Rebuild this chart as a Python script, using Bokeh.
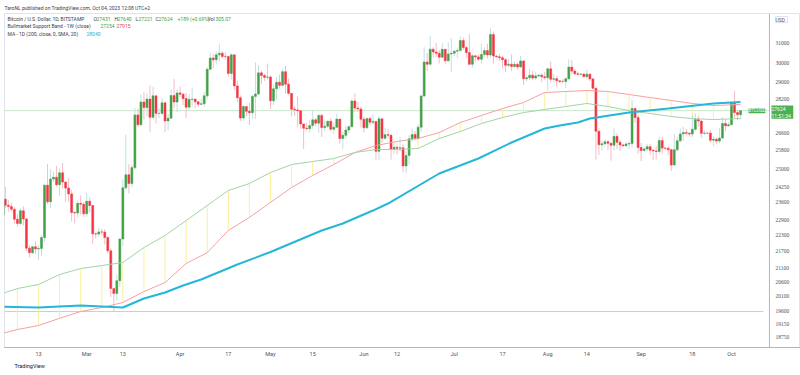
import pandas as pd
from bokeh.plotting import figure
from bokeh.models import (Range1d, FixedTicker, Label, LabelSet, Span, ColumnDataSource, Title)
from bokeh.embed import file_html
from bokeh.resources import INLINE

# ---------------- data ----------------
first_date = "2023-02-01"
last_date = "2023-10-04"
prev_close = 23125

closes = [
    # Feb
    23733, 23490, 23431, 23326, 22932, 22762, 23264, 22939, 21819, 21651,
    21870, 21788, 21808, 22220, 24307, 23623, 24565, 24641, 24328, 24829,
    24436, 24188, 23947, 23198, 23175, 23561, 23522, 23147,
    # Mar
    23646, 23475, 22362, 22353, 22435, 22429, 22219, 21718, 20363, 20187,
    20632, 22163, 24197, 24746, 24375, 25052, 27423, 26965, 28038, 27767,
    28175, 27307, 28333, 27493, 27494, 27994, 27139, 27268, 28348, 28033, 28478,
    # Apr
    28411, 28199, 27790, 28168, 28177, 28044, 27925, 27947, 28333, 29652,
    30235, 30139, 30399, 30485, 30318, 30315, 29445, 30397, 28822, 28245,
    27276, 27817, 27591, 27525, 28307, 28422, 29473, 29340, 29248, 29268,
    # May
    28091, 28680, 29006, 28847, 29534, 28904, 28454, 27694, 27658, 27621,
    27000, 26804, 26784, 26930, 27192, 27036, 27398, 26832, 26890, 27129,
    26753, 26851, 27225, 26334, 26476, 26719, 26868, 28085, 27745, 27702, 27219,
    # Jun
    26819, 27249, 27075, 27119, 25760, 27238, 26345, 26508, 26480, 25851,
    25940, 25902, 25918, 25124, 25576, 26327, 26510, 26336, 26851, 28327,
    30027, 29912, 30695, 30548, 30480, 30271, 30689, 30086, 30445, 30477,
    # Jul
    30590, 30620, 31156, 30777, 30514, 29909, 30346, 30292, 30171, 30414,
    30620, 30392, 31476, 30334, 30295, 30249, 30145, 29856, 29913, 29793,
    29908, 29771, 30084, 29176, 29228, 29354, 29210, 29319, 29357, 29275, 29230,
    # Aug
    29675, 29151, 29178, 29074, 29042, 29041, 29180, 29765, 29561, 29429,
    29397, 29415, 29283, 29408, 29170, 28701, 26664, 26049, 26097, 26189,
    26124, 26031, 26431, 26163, 26047, 26008, 26089, 26107, 27727, 27297, 25931,
    # Sep
    25800, 25868, 25969, 25812, 25779, 25753, 26240, 25905, 25895, 25832,
    25162, 25833, 26228, 26539, 26608, 26568, 26534, 26754, 27211, 27132,
    26568, 26580, 26579, 26256, 26298, 26217, 26352, 27021, 26911, 26967,
    # Oct
    27983, 27531, 27431, 27624,
]

highs = [
    23800, 24230, 23700, 23580, 23420, 23150, 23350, 23440, 22990, 21930,
    21900, 22080, 21900, 22320, 24370, 25200, 24990, 24880, 25120, 25020,
    25250, 24470, 24600, 24120, 23220, 23680, 23880, 23600,
    24000, 23790, 23480, 22410, 22600, 22550, 22540, 22270, 21810, 20290,
    20840, 22220, 24550, 26500, 25200, 25180, 27740, 27720, 28410, 28500,
    28450, 28840, 28780, 28200, 27750, 28210, 28040, 27490, 28650, 29170, 28640,
    28800, 28470, 28480, 28430, 28750, 28180, 28100, 28180, 28520, 29770,
    30520, 30440, 30580, 31000, 30600, 30540, 30330, 30470, 30400, 29080,
    28350, 27870, 27820, 28000, 28380, 30000, 29880, 29580, 29420, 29950,
    29330, 28880, 29260, 29380, 29690, 29820, 29180, 28470, 27830, 28300,
    27630, 26960, 27040, 27180, 27650, 27260, 27470, 27480, 27170, 27150,
    27260, 27050, 27480, 27220, 26630, 26900, 26950, 28200, 28450, 28040, 27820,
    27350, 27300, 27330, 27450, 27130, 27360, 27120, 26800, 26770, 26540,
    26200, 26000, 26400, 26080, 25750, 26480, 26780, 26680, 26980, 28400,
    30800, 30500, 31400, 30800, 31030, 30650, 31000, 30700, 31050, 31280,
    30650, 30780, 31380, 31320, 30870, 31500, 30450, 30390, 30430, 31000,
    30800, 30980, 31820, 31640, 30390, 30440, 30340, 30240, 30200, 30420,
    30050, 29990, 30340, 30100, 29350, 29690, 29570, 29530, 29410, 29450, 29520,
    29740, 30050, 29410, 29310, 29110, 29170, 29240, 30170, 30130, 29690,
    29530, 29470, 29450, 29660, 29450, 29230, 28750, 26800, 26260, 26300,
    26260, 26130, 26800, 26560, 26280, 26100, 26180, 26220, 28140, 27750, 27500,
    26140, 25960, 26090, 26090, 25860, 26000, 26420, 26430, 25940, 25980,
    25880, 26540, 26390, 26800, 26880, 26770, 26620, 27400, 27490, 27380,
    27170, 26720, 26620, 26720, 26430, 26390, 26820, 27300, 27230, 27080,
    28050, 28580, 27660, 27640,
]

lows = [
    22760, 23370, 23230, 23250, 22750, 22640, 22700, 22680, 21700, 21470,
    21600, 21610, 21380, 21540, 22060, 23530, 23370, 24450, 24260, 23870,
    24160, 23620, 23630, 22850, 22760, 22990, 23110, 23020,
    23030, 23200, 21980, 22180, 22250, 22300, 21950, 21630, 20070, 19570,
    19950, 20420, 21890, 24120, 23970, 24240, 24950, 26850, 26900, 27200,
    27350, 26630, 27220, 27020, 27270, 27440, 26620, 26700, 27260, 27730, 27560,
    28270, 27880, 27280, 27690, 27830, 27740, 27790, 27880, 27830, 28180,
    29620, 29700, 29890, 30030, 30230, 30150, 29270, 29120, 28620, 28030,
    27150, 27140, 27350, 26950, 27230, 27230, 28380, 28900, 29070, 29110,
    27700, 27880, 28130, 28700, 28800, 28450, 28400, 27350, 27380, 26880,
    26780, 25870, 26700, 26600, 26770, 26880, 26600, 26400, 26670, 26820,
    26690, 26540, 26810, 26100, 25880, 26330, 26590, 26860, 27560, 27570, 26850,
    26600, 26790, 26930, 26970, 25400, 25370, 26140, 26270, 26320, 25400,
    25650, 25640, 25750, 24850, 24800, 25180, 26190, 26290, 26260, 26640,
    28280, 29560, 29830, 30260, 30280, 29950, 30230, 29900, 30050, 29520,
    30340, 30220, 30580, 30650, 30230, 29850, 29730, 30050, 30080, 29960,
    30280, 30210, 30250, 29950, 30250, 30080, 29680, 29520, 29760, 29570,
    29730, 29640, 29750, 28870, 29040, 29100, 29100, 29130, 29260, 29020, 29130,
    28600, 28980, 28980, 28770, 28960, 28970, 28710, 29110, 29390, 29330,
    29330, 29350, 29250, 29130, 29060, 28650, 25400, 25600, 25800, 25970,
    25810, 25350, 25800, 25860, 25770, 25970, 25960, 25870, 25920, 27050, 25660,
    25330, 25730, 25770, 25600, 25380, 25400, 25630, 25650, 25820, 25590,
    24900, 25140, 25760, 26150, 26240, 26480, 26410, 26380, 26680, 26880,
    26360, 26500, 26520, 26140, 25990, 26090, 26120, 26340, 26670, 26880,
    26960, 27300, 27170, 27221,
]

# Bull market support band (weekly values, Monday points)
band_dates = [
    "2023-01-30", "2023-02-06", "2023-02-13", "2023-02-20", "2023-02-27",
    "2023-03-06", "2023-03-13", "2023-03-20", "2023-03-27", "2023-04-03",
    "2023-04-10", "2023-04-17", "2023-04-24", "2023-05-01", "2023-05-08",
    "2023-05-15", "2023-05-22", "2023-05-29", "2023-06-05", "2023-06-12",
    "2023-06-19", "2023-06-26", "2023-07-03", "2023-07-10", "2023-07-17",
    "2023-07-24", "2023-07-31", "2023-08-07", "2023-08-14", "2023-08-21",
    "2023-08-28", "2023-09-04", "2023-09-11", "2023-09-18", "2023-09-25",
    "2023-10-04",
]
sma20w = [
    18800, 18976, 19107, 19345, 19572, 19706, 19876, 20254, 20570, 21251,
    21650, 22490, 23000, 23595, 24211, 24715, 25184, 25708, 26018, 26200,
    26333, 26606, 27067, 27394, 27725, 28012, 28496, 28545, 28595, 28545,
    28398, 28250, 28108, 27965, 27867, 27915,
]
ema21w = [
    20116, 20359, 20499, 20854, 21069, 21179, 21287, 21843, 22296, 22878,
    23475, 24086, 24377, 24842, 25184, 25315, 25445, 25708, 25843, 25843,
    25887, 26333, 26651, 27021, 27298, 27534, 27678, 27820, 27965, 27820,
    27630, 27487, 27346, 27251, 27204, 27254,
]

# 200-day SMA
ma_dates = [
    "2023-01-31", "2023-02-13", "2023-02-27", "2023-03-13", "2023-03-20",
    "2023-03-27", "2023-04-02", "2023-04-08", "2023-04-20", "2023-05-01",
    "2023-05-18", "2023-05-25", "2023-06-04", "2023-06-09", "2023-06-26",
    "2023-07-09", "2023-07-20", "2023-07-31", "2023-08-05", "2023-08-11",
    "2023-08-15", "2023-08-28", "2023-09-10", "2023-09-25", "2023-10-04",
]
ma200 = [
    19740, 19706, 19774, 19706, 20013, 20220, 20464, 20677, 21215, 21675,
    22489, 22761, 23273, 23555, 24800, 25445, 26154, 26790, 26928, 27067,
    27254, 27534, 27725, 27965, 28040,
]

last_price = 27624
last_time = "11:51:34"
level_line = 19570

price_ticks = [18750, 19150, 19600, 20100, 20600, 21100, 21700, 22300, 22900,
               23600, 24250, 25000, 25800, 26600, 28200, 29000, 30000, 31000]
tick_dates = ["2023-02-13", "2023-03-01", "2023-03-13", "2023-04-01", "2023-04-17",
              "2023-05-01", "2023-05-15", "2023-06-01", "2023-06-12", "2023-07-01",
              "2023-07-17", "2023-08-01", "2023-08-14", "2023-09-01", "2023-09-18",
              "2023-10-01"]
tick_labels = ["13", "Mar", "13", "Apr", "17", "May", "15", "Jun", "12", "Jul",
               "17", "Aug", "14", "Sep", "18", "Oct"]

# ---------------- build ----------------
def ms(d):
    return pd.Timestamp(d).value / 1e6

DAY = 86400000.0
dates = pd.date_range(first_date, last_date, freq="D")
opens = [prev_close] + closes[:-1]

UP, DOWN = "#43a047", "#f23645"
UP_WICK, DOWN_WICK = "#c5dde6", "#f6bcc4"
up = [c >= o for o, c in zip(opens, closes)]
src = ColumnDataSource(dict(
    x=dates, open=opens, close=closes, high=highs, low=lows,
    top=[max(o, c) for o, c in zip(opens, closes)],
    bottom=[min(o, c) for o, c in zip(opens, closes)],
    body=[UP if u else DOWN for u in up],
    wick=[UP_WICK if u else DOWN_WICK for u in up],
))

anchor = ms("2023-02-13")
x0 = anchor - 11.28 * DAY
x1 = anchor + 252.9 * DAY          # frame runs to the right edge (price scale inside)
scale_x = anchor + 242.6 * DAY     # left edge of the price scale column

p = figure(width=800, height=375, x_axis_type="datetime", y_axis_type="log",
           x_range=Range1d(x0, x1), y_range=Range1d(18400, 32632),
           y_axis_location=None, output_backend="svg", toolbar_location=None,
           title=None,
           min_border_left=4, min_border_right=0, min_border_top=13,
           min_border_bottom=28, background_fill_color="white",
           border_fill_color="white")
p.xgrid.grid_line_color = None
p.ygrid.grid_line_color = None
p.outline_line_color = "#e0e3eb"

FONT = "Roboto"
TXT = "#3b3e47"
AX = "#50535e"

p.add_layout(Title(text="TaroNL published on TradingView.com, Oct 04, 2023 12:08 UTC+2",
                   align="left", text_font_size="5px", text_font=FONT,
                   text_font_style="normal", text_color=TXT, standoff=5, offset=0),
             "above")
p.add_layout(Title(text="TradingView", align="left", text_font_size="5.5px", text_font=FONT,
                   text_font_style="normal", text_color="#131722", standoff=3, offset=10),
             "below")

xa = p.xaxis[0]
xa.ticker = FixedTicker(ticks=[ms(d) for d in tick_dates])
xa.major_label_overrides = {ms(d): l for d, l in zip(tick_dates, tick_labels)}
xa.major_tick_line_color = None
xa.minor_tick_line_color = None
xa.major_tick_out = 0
xa.major_tick_in = 0
xa.axis_line_color = "#b2b5be"
xa.major_label_text_font_size = "5.5px"
xa.major_label_text_font = FONT
xa.major_label_text_color = AX
xa.major_label_standoff = 3

# price scale column
p.add_layout(Span(location=scale_x, dimension="height", line_color="#b2b5be", line_width=1))
price_src = ColumnDataSource(dict(y=price_ticks, text=[str(v) for v in price_ticks]))
p.add_layout(LabelSet(x=771, y="y", text="text", x_units="screen", y_units="data",
                      source=price_src, text_font_size="5.5px", text_font=FONT,
                      text_color=AX, text_baseline="middle"))

# horizontal lines
p.segment(x0=[x0], y0=[level_line], x1=[anchor + 240.6 * DAY], y1=[level_line],
          line_color="#c9cbd1", line_width=1)
p.segment(x0=[x0], y0=[last_price], x1=[scale_x], y1=[last_price],
          line_color="#4caf50", line_alpha=0.3, line_width=1)

band_x = pd.to_datetime(band_dates)
p.segment(x0=band_x[:-1], y0=sma20w[:-1], x1=band_x[:-1], y1=ema21w[:-1],
          line_color="#fbef9f", line_width=1)

p.segment(x0="x", y0="high", x1="x", y1="low", line_color="wick", line_width=1, source=src)
p.vbar(x="x", width=0.66 * DAY, top="top", bottom="bottom", fill_color="body",
       line_color="body", line_width=0.5, source=src)

p.line(band_x, sma20w, line_color="#f6a0a0", line_width=1)
p.line(band_x, ema21w, line_color="#a3d3a3", line_width=1)
p.line(pd.to_datetime(ma_dates), ma200, line_color="#26b6d8", line_width=2)

# ---------------- texts (frame-relative screen units: frame left = 4, bottom = 347) ----------------
def lab(x, y, text, color=TXT, size="5px", **kw):
    p.add_layout(Label(x=x, y=y, x_units="screen", y_units="screen", text=text,
                       text_color=color, text_font_size=size, text_font=FONT,
                       text_baseline="middle", **kw))

GREEN_T, RED_T, CYAN_T = "#3aa346", "#f23645", "#1cb3d4"
y1, y2, y3 = 329, 321.5, 314
lab(3, y1, "Bitcoin / U.S. Dollar, 1D, BITSTAMP")
for xx, t, c in [(89, "O", TXT), (92, "27431", GREEN_T), (110, "H", TXT), (113, "27640", GREEN_T),
                 (131, "L", TXT), (134, "27221", GREEN_T), (151, "C", TXT), (154, "27624", GREEN_T),
                 (173, "+189 (+0.69%)", GREEN_T), (203, "Vol", TXT), (211, "305.07", GREEN_T)]:
    lab(xx, y1, t, c)
lab(3, y2, "Bullmarket Support Band - 1W (close)")
lab(96, y2, "27254", GREEN_T)
lab(112, y2, "27915", RED_T)
lab(3, y3, "MA - 1D (200, close, 0, SMA, 20)")
lab(82, y3, "28040", CYAN_T)

lab(771, 328, " USD ", AX, "5px", border_line_color="#e0e3eb", background_fill_color="white")

p.add_layout(Label(x=744, y=last_price, x_units="screen", y_units="data", text="BTCUSD",
                   text_color="white", text_font_size="4.5px", text_font=FONT,
                   text_baseline="middle", background_fill_color="#4caf50"))
p.add_layout(Label(x=767, y=242, x_units="screen", y_units="screen",
                   text=" " + str(last_price) + "\n " + last_time + " ",
                   text_color="white", text_font_size="5px", text_font=FONT,
                   text_baseline="top", background_fill_color="#4caf50"))

open("out.html", "w").write(file_html(p, INLINE))
